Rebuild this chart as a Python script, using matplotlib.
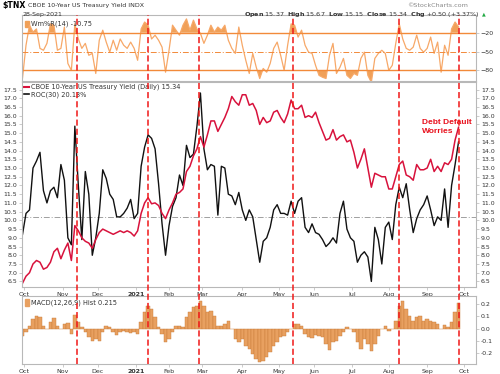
import numpy as np
import matplotlib.pyplot as plt
from matplotlib.lines import Line2D
from matplotlib.transforms import blended_transform_factory

# trading-day index, sampled every 2 sessions (30-Sep-2020 .. 28-Sep-2021)
day = np.arange(0, 251, 2)

# CBOE 10-Year Treasury Yield (x10)
tnx = [6.4, 6.8, 7.0, 7.5, 7.7, 7.6, 7.2, 7.3, 7.6, 8.2,
       8.4, 7.8, 8.3, 8.7, 7.7, 9.7, 9.4, 9.0, 8.8, 8.7,
       8.4, 8.9, 9.3, 9.5, 9.4, 9.3, 9.2, 9.3, 9.4, 9.3,
       9.4, 9.3, 9.1, 9.4, 10.4, 11.0, 11.3, 10.95, 11.0, 10.85,
       10.4, 10.1, 10.6, 11.0, 11.5, 11.6, 11.8, 12.8, 13.1, 13.7,
       14.1, 14.8, 14.2, 14.9, 15.7, 15.7, 15.1, 15.5, 15.9, 16.4,
       17.1, 16.8, 16.6, 17.2, 17.2, 16.6, 16.7, 16.3, 15.5, 15.9,
       15.6, 15.7, 16.2, 16.3, 15.9, 15.6, 16.1, 16.9, 16.4, 16.4,
       16.6, 15.9, 16.0, 15.9, 16.2, 15.6, 15.1, 14.6, 14.7, 15.2,
       14.6, 14.8, 14.9, 14.5, 14.6, 13.9, 13.0, 13.5, 14.1, 13.0,
       11.9, 12.7, 12.6, 12.5, 12.5, 11.8, 11.8, 12.5, 13.2, 13.4,
       12.6, 12.5, 12.3, 13.2, 12.9, 12.9, 13.0, 13.5, 12.8, 13.1,
       12.8, 13.3, 13.2, 13.5, 14.6, 15.34]

# ROC(30) overlay, drawn on the price scale
roc = [9.2, 10.4, 10.6, 13.0, 13.4, 13.9, 11.7, 11.0, 11.7, 11.9,
       11.3, 13.2, 12.3, 9.0, 8.6, 15.4, 12.0, 8.9, 12.8, 11.5,
       8.0, 9.0, 10.4, 12.9, 12.4, 11.5, 11.2, 10.2, 10.2, 10.4,
       10.7, 11.2, 10.1, 10.4, 13.1, 14.2, 14.9, 14.7, 14.1, 12.1,
       9.8, 8.0, 9.7, 10.8, 11.3, 12.6, 12.0, 14.3, 13.6, 13.8,
       15.4, 17.3, 14.1, 12.9, 13.2, 13.1, 10.3, 13.1, 13.0, 11.5,
       11.4, 10.9, 11.6, 10.6, 10.0, 10.6, 10.2, 8.9, 7.6, 8.8,
       9.0, 9.6, 10.6, 10.9, 10.4, 10.4, 10.3, 11.1, 10.4, 11.1,
       11.3, 9.6, 9.3, 9.8, 9.3, 9.2, 8.9, 8.5, 8.7, 9.0,
       8.7, 10.4, 11.1, 9.5, 9.0, 8.8, 7.6, 8.0, 8.2, 7.9,
       6.5, 9.6, 8.9, 7.5, 9.6, 9.9, 8.9, 10.9, 11.9, 11.3,
       12.1, 10.6, 9.3, 10.1, 10.6, 10.9, 11.4, 10.6, 9.7, 10.2,
       10.0, 11.8, 9.6, 12.0, 13.2, 14.5]

# Williams %R(14)
wr = [-92, -40, -8, -19, -14, -45, -48, -37, -6, -8,
      -48, -45, -11, -69, -80, -6, -30, -45, -37, -56,
      -53, -85, -32, -16, -35, -51, -32, -48, -30, -40,
      -45, -35, -45, -64, -14, -3, -8, -30, -24, -32,
      -43, -83, -48, -8, -16, -24, -8, 2, -16, 0,
      -14, -21, -37, -24, -8, -19, -11, -16, -8, -32,
      -45, -53, -11, -40, -64, -85, -53, -75, -93, -77,
      -83, -69, -45, -35, -56, -80, -40, -6, -8, -27,
      -16, -40, -51, -53, -72, -88, -91, -93, -56, -37,
      -85, -75, -61, -88, -93, -85, -88, -61, -51, -88,
      -99, -61, -53, -48, -53, -80, -72, -37, -6, -30,
      -45, -48, -43, -24, -45, -51, -45, -27, -53, -35,
      -83, -40, -56, -14, -3, -10.75]

# MACD(12,26,9) histogram
hist = [-0.058, -0.025, 0.025, 0.080, 0.100, 0.094, 0.025, 0.000, 0.052, 0.085,
        0.025, 0.000, 0.039, 0.047, -0.044, 0.113, 0.052, 0.011, -0.025, -0.072,
        -0.099, -0.085, -0.099, -0.030, 0.025, 0.011, -0.030, -0.052, -0.025, -0.017,
        -0.030, -0.036, -0.030, -0.044, 0.052, 0.135, 0.190, 0.163, 0.094, 0.011,
        -0.044, -0.113, -0.085, -0.030, 0.025, 0.025, 0.011, 0.094, 0.140, 0.176,
        0.190, 0.231, 0.190, 0.135, 0.149, 0.107, 0.025, 0.025, 0.039, 0.066,
        0.000, -0.085, -0.113, -0.085, -0.140, -0.168, -0.209, -0.250, -0.278, -0.264,
        -0.237, -0.196, -0.140, -0.113, -0.072, -0.058, -0.030, 0.000, 0.039, 0.039,
        0.025, -0.044, -0.072, -0.080, -0.052, -0.058, -0.072, -0.127, -0.174, -0.113,
        -0.099, -0.058, -0.030, 0.011, 0.000, -0.030, -0.113, -0.168, -0.085, -0.127,
        -0.182, -0.127, -0.058, 0.000, 0.025, -0.017, 0.000, 0.066, 0.190, 0.231,
        0.163, 0.107, 0.066, 0.094, 0.107, 0.066, 0.080, 0.066, 0.058, 0.039,
        0.000, 0.030, 0.011, 0.052, 0.135, 0.215]

month_days = [1, 23, 43, 65, 84, 103, 126, 147, 167, 189, 210, 232, 253]
month_labels = ['Oct', 'Nov', 'Dec', '2021', 'Feb', 'Mar', 'Apr', 'May', 'Jun', 'Jul', 'Aug', 'Sep', 'Oct']
event_days = [31, 72, 101, 155, 216, 250]

wr = np.array(wr, dtype=float)

fig = plt.figure(figsize=(5.0, 3.74), dpi=100)
ax1 = fig.add_axes([0.044, 0.7834, 0.908, 0.1765])
ax2 = fig.add_axes([0.044, 0.2326, 0.908, 0.5481])
ax3 = fig.add_axes([0.044, 0.0267, 0.908, 0.1818])

frame = '#b8b8b8'
for ax in (ax1, ax2, ax3):
    ax.set_xlim(-0.3, 260)
    for s in ax.spines.values():
        s.set_color(frame)
        s.set_linewidth(0.8)
    ax.tick_params(length=2, width=0.5, color=frame, labelsize=4.5, labelcolor='#333333', pad=1.5)
    ax.set_xticks(month_days)

# --- Williams %R panel
orange = '#f28a3a'
ax1.plot(day, wr, color='#f7a868', lw=0.9)
ax1.fill_between(day, wr, -20, where=wr > -20, interpolate=True, color='#f0a058', lw=0)
ax1.fill_between(day, wr, -80, where=wr < -80, interpolate=True, color='#f0a058', lw=0)
ax1.axhline(-20, color=orange, lw=1.0)
ax1.axhline(-80, color=orange, lw=1.0)
ax1.axhline(-50, color=orange, lw=0.7, ls=(0, (6, 2, 1, 2)))
ax1.set_ylim(-97, 8.2)
ax1.set_yticks([-20, -50, -80])
ax1.yaxis.tick_right()
ax1.tick_params(axis='x', labelbottom=False, length=0)
ax1.text(0.02, 0.86, 'Wm%R(14) -10.75', transform=ax1.transAxes, fontsize=4.8, color='#333333', va='center')
ax1.add_patch(plt.Rectangle((0.006, 0.82), 0.009, 0.09, transform=ax1.transAxes, color='#f0a058'))

# --- Price panel
ax2.axhline(10.2, color='#a0a0a0', lw=0.7, ls=(0, (6, 2, 1, 2)))
ax2.plot(day, roc, color='#111111', lw=1.0)
ax2.plot(day, tnx, color='#d8123c', lw=1.1)
ax2.set_ylim(6.18, 17.93)
ax2.set_yticks(np.arange(6.5, 17.6, 0.5))
ax2.set_yticklabels(['%.1f' % v for v in np.arange(6.5, 17.6, 0.5)])
ax2.tick_params(axis='y', left=True, right=True, labelleft=True, labelright=True)
ax2.set_xticklabels(month_labels)
ax2.get_xticklabels()[3].set_fontweight('bold')
ax2.add_artist(Line2D([0.004, 0.016], [0.975, 0.975], transform=ax2.transAxes, color='#d8123c', lw=1.5))
ax2.text(0.02, 0.975, 'CBOE 10-Year US Treasury Yield (Daily) 15.34', transform=ax2.transAxes,
         fontsize=4.8, color='#333333', va='center')
ax2.add_artist(Line2D([0.004, 0.016], [0.94, 0.94], transform=ax2.transAxes, color='#111111', lw=1.2))
ax2.text(0.02, 0.94, 'ROC(30) 20.13%', transform=ax2.transAxes, fontsize=4.8, color='#333333', va='center')
ax2.text(229, 15.35, 'Debt Default\nWorries', color='#e8101c', fontsize=6, fontweight='bold',
         family='Liberation Sans', ha='left', va='center', linespacing=1.25)

# --- MACD panel
ax3.bar(day, hist, width=2.0, color='#e8a060', edgecolor='#c87a38', linewidth=0.3)
ax3.set_ylim(-0.293, 0.269)
ax3.set_yticks([0.2, 0.1, 0.0, -0.1, -0.2])
ax3.set_yticklabels(['0.2', '0.1', '0.0', '-0.1', '-0.2'])
ax3.yaxis.tick_right()
ax3.set_xticklabels(month_labels)
ax3.get_xticklabels()[3].set_fontweight('bold')
ax3.add_patch(plt.Rectangle((0.006, 0.86), 0.009, 0.09, transform=ax3.transAxes, color='#e8a060'))
ax3.text(0.02, 0.9, 'MACD(12,26,9) Hist 0.215', transform=ax3.transAxes, fontsize=4.8, color='#333333', va='center')

# event markers running through all panels
trans = blended_transform_factory(ax2.transData, fig.transFigure)
for d in event_days:
    fig.add_artist(Line2D([d, d], [0.0267, 0.96], transform=trans, color='#f01818', lw=1.1, ls=(0, (4, 2))))

# header
fig.text(0.004, 0.985, r'\$TNX', fontsize=5.6, fontweight='bold', va='center')
fig.text(0.056, 0.985, 'CBOE 10-Year US Treasury Yield INDX', fontsize=4.5, color='#333333', va='center')
fig.text(0.045, 0.962, '28-Sep-2021', fontsize=4.5, color='#333333', va='center')
fig.text(0.936, 0.985, '\u00a9StockCharts.com', fontsize=4.6, color='#888888', va='center', ha='right')
fig.text(0.96, 0.962, r'$\bf{Open}$ 15.37  $\bf{High}$ 15.67  $\bf{Low}$ 15.15  $\bf{Close}$ 15.34  $\bf{Chg}$ +0.50 (+3.37%)',
         fontsize=4.6, color='#333333', va='center', ha='right')
fig.text(0.964, 0.962, '\u25b2', fontsize=3.5, color='#22aa44', va='center')

fig.savefig('out.png', dpi=100)
